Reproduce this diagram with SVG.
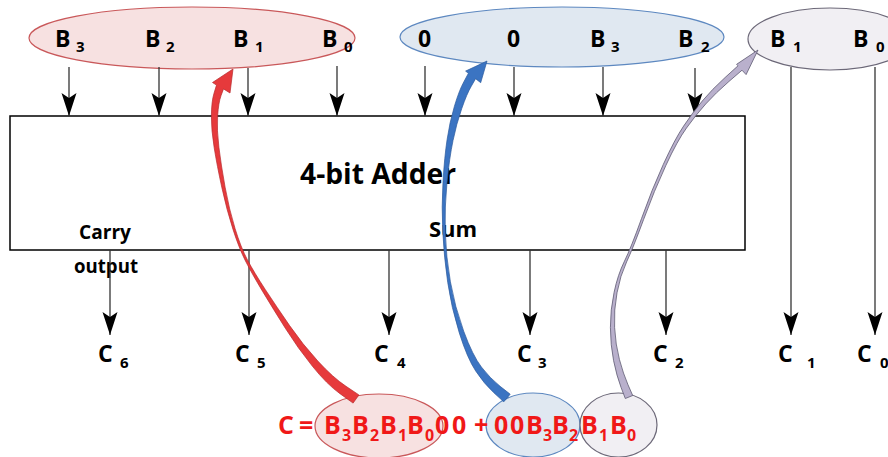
<svg xmlns="http://www.w3.org/2000/svg" width="888" height="457" viewBox="0 0 888 457">
<defs>
<marker id="ah" markerWidth="23" markerHeight="16" refX="23" refY="8" orient="auto" markerUnits="userSpaceOnUse" viewBox="0 0 23 16">
<path d="M23,8 L0,0.5 L5,8 L0,15.5 Z" fill="#000"/>
</marker>
<style>
.lbl{font-family:"Open Sans","Liberation Sans",sans-serif;font-weight:bold;fill:#000}
.big{font-size:23px}
.sub{font-size:15px}
.wire{stroke:#333;stroke-width:1.3;fill:none}
.in{marker-end:url(#ah)}
.eq{font-family:"Open Sans","Liberation Sans",sans-serif;font-weight:bold;fill:#f01818;font-size:25px}
.eqs{font-size:16px}
</style>
</defs>
<rect width="888" height="457" fill="#fff"/>

<g id="group-high">
<ellipse cx="192" cy="38" rx="163" ry="31" fill="#f7e1e1" stroke="#c9585a" stroke-width="1.2"/>
<text class="lbl big" x="55" y="47">B</text><text class="lbl sub" x="76" y="52">3</text>
<text class="lbl big" x="145" y="47">B</text><text class="lbl sub" x="166" y="52">2</text>
<text class="lbl big" x="233" y="47">B</text><text class="lbl sub" x="255" y="52">1</text>
<text class="lbl big" x="322" y="47">B</text><text class="lbl sub" x="344" y="52">0</text>
</g>

<g id="group-mid">
<ellipse cx="562" cy="37" rx="162" ry="30" fill="#e0e8f1" stroke="#5d88c0" stroke-width="1.2"/>
<text class="lbl big" x="418" y="47">0</text>
<text class="lbl big" x="507" y="47">0</text>
<text class="lbl big" x="590" y="47">B</text><text class="lbl sub" x="611" y="52">3</text>
<text class="lbl big" x="678" y="47">B</text><text class="lbl sub" x="701" y="52">2</text>
</g>

<g id="group-low">
<ellipse cx="830" cy="39" rx="82" ry="31" fill="#f1eff3" stroke="#6c6878" stroke-width="1.2"/>
<text class="lbl big" x="770" y="47">B</text><text class="lbl sub" x="793" y="52">1</text>
<text class="lbl big" x="853" y="47">B</text><text class="lbl sub" x="876" y="52">0</text>
</g>

<g id="adder">
<rect x="10" y="116" width="735" height="134" fill="#fff" stroke="#000" stroke-width="1.5"/>
<text class="lbl" x="300" y="184" font-size="28" textLength="156" lengthAdjust="spacingAndGlyphs">4-bit Adder</text>
<text class="lbl" x="429" y="237" font-size="22">Sum</text>
<text class="lbl" x="79" y="239" font-size="19" textLength="52" lengthAdjust="spacingAndGlyphs">Carry</text>
<text class="lbl" x="74" y="273" font-size="19" textLength="64" lengthAdjust="spacingAndGlyphs">output</text>
</g>

<g id="connectors">
<line class="wire in" x1="69" y1="67" x2="69" y2="116"/>
<line class="wire in" x1="159" y1="67" x2="159" y2="116"/>
<line class="wire in" x1="248" y1="68" x2="248" y2="116"/>
<line class="wire in" x1="337" y1="66" x2="337" y2="116"/>
<line class="wire in" x1="425" y1="66" x2="425" y2="116"/>
<line class="wire in" x1="514" y1="67" x2="514" y2="116"/>
<line class="wire in" x1="603" y1="67" x2="603" y2="116"/>
<line class="wire in" x1="695" y1="68" x2="695" y2="116"/>
<line class="wire in" x1="110" y1="250" x2="110" y2="335"/>
<line class="wire in" x1="249" y1="250" x2="249" y2="335"/>
<line class="wire in" x1="389" y1="250" x2="389" y2="335"/>
<line class="wire in" x1="530" y1="250" x2="530" y2="335"/>
<line class="wire in" x1="666" y1="250" x2="666" y2="335"/>
<line class="wire in" x1="791" y1="67" x2="791" y2="335"/>
<line class="wire in" x1="875" y1="67" x2="875" y2="335"/>
</g>

<g id="outputs">
<text class="lbl big" x="98" y="362">C</text><text class="lbl sub" x="120" y="368">6</text>
<text class="lbl big" x="235" y="362">C</text><text class="lbl sub" x="257" y="368">5</text>
<text class="lbl big" x="374" y="362">C</text><text class="lbl sub" x="397" y="368">4</text>
<text class="lbl big" x="517" y="362">C</text><text class="lbl sub" x="538" y="368">3</text>
<text class="lbl big" x="653" y="362">C</text><text class="lbl sub" x="675" y="368">2</text>
<text class="lbl big" x="778" y="362">C</text><text class="lbl sub" x="807" y="368">1</text>
<text class="lbl big" x="857" y="362">C</text><text class="lbl sub" x="880" y="368">0</text>
</g>

<g id="equation">
<ellipse cx="379" cy="426" rx="64" ry="32" fill="#f7e1e1" stroke="#c9585a" stroke-width="1.2"/>
<ellipse cx="533" cy="425" rx="47" ry="32" fill="#e0e8f1" stroke="#5d88c0" stroke-width="1.2"/>
<ellipse cx="618.5" cy="425" rx="38.5" ry="32" fill="#f1eff3" stroke="#6c6878" stroke-width="1.2"/>
<text class="eq" x="278" y="434">C</text>
<text class="eq" x="299" y="434">=</text>
<text class="eq" x="324" y="434">B</text><text class="eq eqs" x="342" y="441">3</text>
<text class="eq" x="352" y="434">B</text><text class="eq eqs" x="370" y="441">2</text>
<text class="eq" x="380" y="434">B</text><text class="eq eqs" x="398" y="441">1</text>
<text class="eq" x="407" y="434">B</text><text class="eq eqs" x="425" y="441">0</text>
<text class="eq" x="435" y="434">0</text>
<text class="eq" x="452" y="434">0</text>
<text class="eq" x="474" y="434">+</text>
<text class="eq" x="494" y="434">0</text>
<text class="eq" x="510" y="434">0</text>
<text class="eq" x="526" y="434">B</text><text class="eq eqs" x="543" y="441">3</text>
<text class="eq" x="552" y="434">B</text><text class="eq eqs" x="569" y="441">2</text>
<text class="eq" x="581" y="434">B</text><text class="eq eqs" x="599" y="441">1</text>
<text class="eq" x="610" y="434">B</text><text class="eq eqs" x="627" y="441">0</text>
</g>

<g id="curved-arrows">
<path id="red-arrow" d="M353.1,403.1 L358.9,394.9 L346,386.3 Q333.1,377.7 317.8,361 Q302.4,344.2 289.6,325.6 Q276.7,306.9 265.4,289.7 Q254.1,272.4 247.5,260 Q240.9,247.6 235.1,228.7 Q229.2,209.7 225.1,187.2 Q221,164.7 218.9,147.3 Q216.7,129.8 217.6,116.2 Q218.5,102.5 221,95.7 L223.5,88.9 L230,93 L233,69 L212.5,82.5 L216.5,85.1 L214,93.3 Q211.5,101.5 211.4,115.9 Q211.3,130.2 214.2,147.8 Q217,165.3 221.9,187.8 Q226.8,210.3 233,229.4 Q239.1,248.4 245.5,261 Q251.9,273.6 262.6,291.4 Q273.3,309.1 285.5,328.5 Q297.6,347.8 312.3,366.1 Q326.9,384.3 340,393.7 Z" fill="#e63a3c" stroke="#b72a2c" stroke-width="0.7" stroke-linejoin="round"/>
<path id="blue-arrow" d="M503.8,401.8 L510.2,394.2 L500.1,386.3 Q490,378.3 481.4,367 Q472.7,355.7 463.7,331.2 Q454.7,306.6 450.4,281.8 Q446,256.9 445.3,232 Q444.5,207 447,182.2 Q449.5,157.3 453,140.6 Q456.4,123.8 461.7,108.7 Q466.9,93.6 471.3,86.2 L475.6,78.7 L480.7,82.7 L487,61 L465.6,71.1 L468.4,73.3 L463.8,81.9 Q459.1,90.4 454.4,106.3 Q449.6,122.2 447.1,139.5 Q444.5,156.7 443,181.9 Q441.5,207 442.8,232.1 Q444,257.1 447.7,282.3 Q451.3,307.4 459.3,332.9 Q467.3,358.3 475.7,371 Q484,383.7 493.9,392.8 Z" fill="#3b74c2" stroke="#2c5a9c" stroke-width="0.7" stroke-linejoin="round"/>
<path id="gray-arrow" d="M625.3,398.5 L632.7,395.5 L628,384.8 Q623.3,374 619.4,359.4 Q615.5,344.7 614.6,327.4 Q613.7,310.1 617,292.8 Q620.2,275.4 626.6,261.9 Q632.9,248.4 643.6,219.5 Q654.2,190.5 665.8,165.6 Q677.3,140.7 686.5,128 Q695.6,115.2 705.7,104 Q715.8,92.8 728.9,81.5 L742,70.2 L746.1,74.6 L758,50 L736.6,64.3 L738,65.8 L725.1,77.5 Q712.2,89.2 702.3,101 Q692.4,112.8 683.6,126.1 Q674.7,139.3 663.3,164.4 Q651.8,189.5 641.5,218.6 Q631.1,247.6 624.5,261.1 Q617.8,274.6 614.1,292.3 Q610.3,309.9 610.4,327.6 Q610.5,345.3 613.6,360.7 Q616.7,376 621,387.3 Z" fill="#b9b0cc" stroke="#5e5a72" stroke-width="0.8" stroke-linejoin="round"/>
</g>
</svg>
